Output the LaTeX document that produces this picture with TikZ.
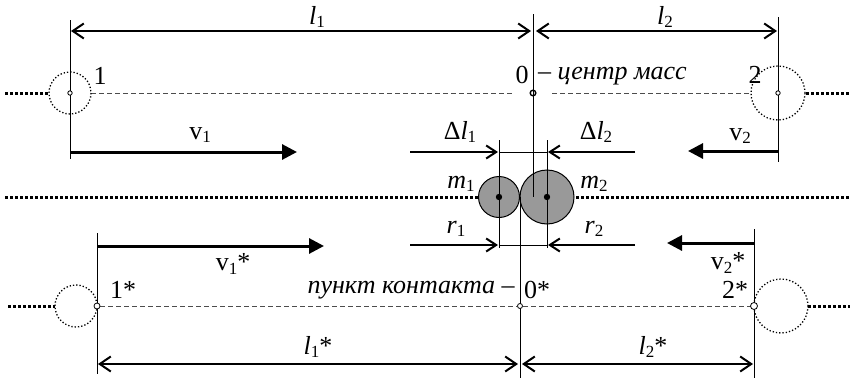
\documentclass[tikz,border=0pt]{standalone}
\usepackage{fontspec}
\setmainfont{Liberation Serif}
\usetikzlibrary{arrows.meta}
\newcommand\lowidx[1]{\raisebox{-3.5pt}{\fontsize{17}{17}\selectfont #1}}
\begin{document}
\begin{tikzpicture}[x=1pt,y=-1pt,
  thinln/.style={line width=1pt},
  dimarrow/.style={line width=2pt,{Straight Barb[length=11pt,width=15pt]}-{Straight Barb[length=11pt,width=15pt]}},
  velarrow/.style={line width=3pt,-{Triangle[length=15pt,width=15pt]}},
  smallarrow/.style={line width=2pt,-{Straight Barb[length=10pt,width=13pt]}},
  axisln/.style={line width=0.8pt,draw=black!70,dash pattern=on 5pt off 3pt},
  heavydot/.style={line width=3pt,dash pattern=on 3pt off 2pt},
  ghost/.style={line width=1.3pt,dash pattern=on 1.3pt off 2pt},
  ballst/.style={draw,line width=1pt,fill=black!40},
  lbl/.style={font=\fontsize{26}{30}\selectfont,inner sep=0pt}
]
\useasboundingbox (0,0) rectangle (855,380);

% ---------- top section ----------
\coordinate (A1t) at (70,20);  \coordinate (A1b) at (70,159);
\coordinate (Ot) at (533,14);  \coordinate (Ob) at (533,197);
\coordinate (A2t) at (778,17); \coordinate (A2b) at (778,162);
\draw[thinln] (A1t) -- (A1b);
\draw[thinln] (A2t) -- (A2b);

\coordinate (L1a) at (71,31); \coordinate (L1b) at (531,31);
\coordinate (L2a) at (536,31); \coordinate (L2b) at (777,31);
\draw[dimarrow] (L1a) -- (L1b);
\draw[dimarrow] (L2a) -- (L2b);
\node[lbl] (tl1) at (317,17) {\textit{l}\lowidx{1}};
\node[lbl] (tl2) at (665,17) {\textit{l}\lowidx{2}};

% axis top
\coordinate (HDa) at (5,93);   \coordinate (HDb) at (49,93);
\coordinate (AXa) at (91,93);  \coordinate (AXb) at (512,93);
\coordinate (AXc) at (552,93); \coordinate (AXd) at (751,93);
\coordinate (HDc) at (806,93); \coordinate (HDd) at (850,93);
\draw[heavydot] (HDa) -- (HDb);
\draw[heavydot] (HDc) -- (HDd);
\draw[axisln] (AXa) -- (AXb);
\draw[axisln] (AXc) -- (AXd);
\draw[ghost] (70,93) circle (21);
\draw[ghost] (778,93) circle (27);
\draw[thinln] (Ot) -- (Ob);
\draw[line width=0.8pt,fill=white] (70,93) circle (2.2);
\draw[line width=1.4pt,fill=white] (533,93) circle (2.8);
\draw[line width=0.8pt,fill=white] (778,93) circle (2.2);
\node[lbl] (n1) at (100,76) {1};
\node[lbl] (n0) at (522,75) {0};
\node[lbl,anchor=west] (cm) at (538,76) {\textit{– центр масс}};
\node[lbl] (n2) at (755,75) {2};

% velocities top
\coordinate (V1a) at (71,152); \coordinate (V1b) at (297,152);
\coordinate (V2a) at (778,151); \coordinate (V2b) at (688,151);
\draw[velarrow] (V1a) -- (V1b);
\draw[velarrow] (V2a) -- (V2b);
\node[lbl] (tv1) at (200,135) {v\lowidx{1}};
\node[lbl] (tv2) at (740,136) {v\lowidx{2}};

% ---------- middle ----------
\coordinate (MDa) at (5,197);   \coordinate (MDb) at (478,197);
\coordinate (MDc) at (576,197); \coordinate (MDd) at (850,197);
\draw[heavydot] (MDa) -- (MDb);
\draw[heavydot] (MDc) -- (MDd);
\draw[ballst] (499,197) circle (20.5);
\draw[ballst] (547,197) circle (27);

\coordinate (P1t) at (499,140); \coordinate (P1b) at (499,248);
\coordinate (P2t) at (547,140); \coordinate (P2b) at (547,248);
\coordinate (H1a) at (499,152); \coordinate (H1b) at (547,152);
\coordinate (H2a) at (499,245); \coordinate (H2b) at (547,245);
\coordinate (Ct) at (520,197);  \coordinate (Cb) at (520,378);
\draw[thinln] (P1t) -- (P1b);
\draw[thinln] (P2t) -- (P2b);
\draw[thinln] (H1a) -- (H1b);
\draw[thinln] (H2a) -- (H2b);
\draw[thinln] (Ot) -- (Ob);
\draw[thinln] (Ct) -- (Cb);
\fill (499,197) circle (3.2);
\fill (547,197) circle (3.2);
\node[lbl] (tm1) at (461,184) {\textit{m}\lowidx{1}};
\node[lbl] (tm2) at (594,184) {\textit{m}\lowidx{2}};

\coordinate (D1a) at (410,152); \coordinate (D1b) at (498,152);
\coordinate (D2a) at (635,152); \coordinate (D2b) at (548,152);
\draw[smallarrow] (D1a) -- (D1b);
\draw[smallarrow] (D2a) -- (D2b);
\node[lbl] (td1) at (460,132) {Δ\textit{l}\lowidx{1}};
\node[lbl] (td2) at (596,132) {Δ\textit{l}\lowidx{2}};

\coordinate (R1a) at (410,245); \coordinate (R1b) at (498,245);
\coordinate (R2a) at (635,245); \coordinate (R2b) at (548,245);
\draw[smallarrow] (R1a) -- (R1b);
\draw[smallarrow] (R2a) -- (R2b);
\node[lbl] (tr1) at (456,229) {\textit{r}\lowidx{1}};
\node[lbl] (tr2) at (594,229) {\textit{r}\lowidx{2}};

% ---------- bottom section ----------
\coordinate (B1t) at (97,233);  \coordinate (B1b) at (97,374);
\coordinate (B2t) at (754,229); \coordinate (B2b) at (754,378);
\draw[thinln] (B1t) -- (B1b);
\draw[thinln] (B2t) -- (B2b);

\coordinate (W1a) at (98,246);  \coordinate (W1b) at (324,246);
\coordinate (W2a) at (754,243); \coordinate (W2b) at (667,243);
\draw[velarrow] (W1a) -- (W1b);
\draw[velarrow] (W2a) -- (W2b);
\node[lbl] (tw1) at (233,264) {v\lowidx{1}*};
\node[lbl] (tw2) at (728,263) {v\lowidx{2}*};

\coordinate (BHa) at (8,306);   \coordinate (BHb) at (55,306);
\coordinate (BXa) at (100,306); \coordinate (BXb) at (517,306);
\coordinate (BXc) at (523,306); \coordinate (BXd) at (751,306);
\coordinate (BHc) at (808,306); \coordinate (BHd) at (850,306);
\draw[heavydot] (BHa) -- (BHb);
\draw[heavydot] (BHc) -- (BHd);
\draw[axisln] (BXa) -- (BXb);
\draw[axisln] (BXc) -- (BXd);
\draw[ghost] (76,306) circle (21);
\draw[ghost] (781,306) circle (27);
\draw[line width=0.8pt,fill=white] (97,306) circle (3);
\draw[line width=0.8pt,fill=white] (520,306) circle (2.5);
\draw[line width=0.8pt,fill=white] (754,306) circle (3.5);
\node[lbl] (s1) at (123,290) {1*};
\node[lbl,anchor=east] (pk) at (515,290) {\textit{пункт контакта –}};
\node[lbl,anchor=west] (s0) at (524,290) {0*};
\node[lbl] (s2) at (735,290) {2*};

\coordinate (M1a) at (98,364);  \coordinate (M1b) at (518,364);
\coordinate (M2a) at (522,364); \coordinate (M2b) at (753,364);
\draw[dimarrow] (M1a) -- (M1b);
\draw[dimarrow] (M2a) -- (M2b);
\node[lbl] (tm1s) at (318,347) {\textit{l}\lowidx{1}*};
\node[lbl] (tm2s) at (653,347) {\textit{l}\lowidx{2}*};
\end{tikzpicture}
\end{document}
